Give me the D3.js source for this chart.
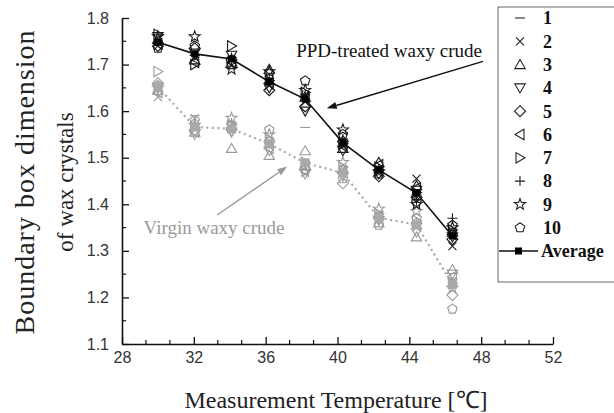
<!DOCTYPE html>
<html>
<head>
<meta charset="utf-8">
<script src="https://cdn.jsdelivr.net/npm/d3@7"></script>
<style>
  body { margin: 0; background: #fff; }
  svg { display: block; }
</style>
</head>
<body>
<svg id="chart" width="614" height="413"></svg>
<script>
// Measurement temperatures (°C) at which each sample was imaged
const temps = [30, 32.05, 34.1, 36.2, 38.2, 40.3, 42.3, 44.4, 46.4];

// Sample labels and their marker shapes
const sampleIds = ["1", "2", "3", "4", "5", "6", "7", "8", "9", "10"];
const sampleShapes = ["dash", "times", "triUp", "triDown", "diamond", "triLeft", "triRight", "plus", "star", "pentagon"];

// PPD-treated crude: one row per temperature, samples 1..10
const ppdByTemp = [
  [1.745, 1.740, 1.755, 1.760, 1.740, 1.745, 1.765, 1.750, 1.760, 1.735],
  [1.720, 1.715, 1.710, 1.725, 1.735, 1.705, 1.700, 1.720, 1.760, 1.740],
  [1.715, 1.710, 1.705, 1.720, 1.710, 1.705, 1.740, 1.715, 1.690, 1.700],
  [1.660, 1.655, 1.690, 1.650, 1.645, 1.660, 1.665, 1.670, 1.685, 1.680],
  [1.625, 1.620, 1.630, 1.600, 1.610, 1.630, 1.640, 1.635, 1.645, 1.665],
  [1.530, 1.525, 1.520, 1.515, 1.535, 1.525, 1.530, 1.540, 1.560, 1.550],
  [1.475, 1.470, 1.490, 1.465, 1.460, 1.485, 1.480, 1.475, 1.470, 1.465],
  [1.420, 1.455, 1.440, 1.430, 1.415, 1.435, 1.425, 1.410, 1.400, 1.405],
  [1.335, 1.310, 1.340, 1.330, 1.325, 1.335, 1.345, 1.370, 1.350, 1.355]
];

// Virgin crude: one row per temperature, samples 1..10
const virginByTemp = [
  [1.655, 1.630, 1.645, 1.650, 1.660, 1.640, 1.685, 1.645, 1.650, 1.655],
  [1.590, 1.585, 1.555, 1.550, 1.560, 1.555, 1.565, 1.570, 1.570, 1.580],
  [1.560, 1.565, 1.520, 1.555, 1.560, 1.565, 1.570, 1.575, 1.585, 1.570],
  [1.530, 1.525, 1.505, 1.515, 1.535, 1.520, 1.540, 1.530, 1.550, 1.560],
  [1.565, 1.480, 1.515, 1.465, 1.475, 1.480, 1.490, 1.485, 1.470, 1.475],
  [1.465, 1.470, 1.475, 1.460, 1.445, 1.470, 1.480, 1.470, 1.490, 1.455],
  [1.370, 1.375, 1.360, 1.365, 1.370, 1.375, 1.380, 1.370, 1.390, 1.355],
  [1.355, 1.350, 1.330, 1.340, 1.360, 1.355, 1.365, 1.360, 1.385, 1.370],
  [1.240, 1.235, 1.260, 1.250, 1.205, 1.245, 1.230, 1.225, 1.220, 1.175]
];

// Averages over the ten samples
const ppdAverage    = [1.748, 1.723, 1.712, 1.663, 1.626, 1.532, 1.474, 1.424, 1.332];
const virginAverage = [1.652, 1.566, 1.562, 1.530, 1.489, 1.467, 1.371, 1.356, 1.228];

// Axis ticks
const xTicks = [28, 32, 36, 40, 44, 48, 52];
const yTicks = [1.1, 1.2, 1.3, 1.4, 1.5, 1.6, 1.7, 1.8];

// Annotation anchors in data units: [temperature, dimension]
const ppdNote    = { text: "PPD-treated waxy crude", at: [37.7, 1.716], from: [48.1, 1.707], to: [39.4, 1.606] };
const virginNote = { text: "Virgin waxy crude",      at: [29.2, 1.337], from: [33.3, 1.377], to: [37.2, 1.481] };

const svg = d3.select("#chart");

const x = d3.scaleLinear().domain([28, 52]).range([122, 553]);
const y = d3.scaleLinear().domain([1.1, 1.8]).range([344, 18]);

// ---------- marker shapes ----------
const closed = d3.line().curve(d3.curveLinearClosed);
function regular(n, r, rot) {
  return d3.range(n).map(i => {
    const a = rot + i * 2 * Math.PI / n;
    return [r * Math.cos(a), r * Math.sin(a)];
  });
}
function shapePath(name) {
  const r = 5;
  switch (name) {
    case "dash":     return `M${-r},0H${r}`;
    case "times":    return `M${-4},${-4}L4,4M${-4},4L4,${-4}`;
    case "plus":     return `M${-r},0H${r}M0,${-r}V${r}`;
    case "triUp":    return closed(regular(3, 6, -Math.PI / 2).map(([a, b]) => [a, b + 1]));
    case "triDown":  return closed(regular(3, 6, Math.PI / 2).map(([a, b]) => [a, b - 1]));
    case "triLeft":  return closed(regular(3, 6, Math.PI).map(([a, b]) => [a + 1, b]));
    case "triRight": return closed(regular(3, 6, 0).map(([a, b]) => [a - 1, b]));
    case "diamond":  return closed(regular(4, 5.5, -Math.PI / 2));
    case "pentagon": return closed(regular(5, 5, -Math.PI / 2));
    case "star": {
      const pts = d3.range(10).map(i => {
        const rr = i % 2 ? 2.4 : 5.8;
        const a = -Math.PI / 2 + i * Math.PI / 5;
        return [rr * Math.cos(a), rr * Math.sin(a)];
      });
      return closed(pts);
    }
  }
  return "";
}

// ---------- axes ----------
const axisColor = "#111";
const labelColor = "#333";

// minor ticks
const xMinor = d3.range(28, 52.001, 4 / 3).filter(v => !xTicks.some(t => Math.abs(t - v) < 1e-6));
const yMinor = d3.range(1.15, 1.8, 0.1);

svg.append("g").selectAll("line").data(xMinor).join("line")
  .attr("x1", d => x(d)).attr("x2", d => x(d))
  .attr("y1", y(1.1)).attr("y2", y(1.1) - 4)
  .attr("stroke", axisColor).attr("stroke-width", 1.2);
svg.append("g").selectAll("line").data(yMinor).join("line")
  .attr("x1", x(28)).attr("x2", x(28) + 4)
  .attr("y1", d => y(d)).attr("y2", d => y(d))
  .attr("stroke", axisColor).attr("stroke-width", 1.2);

const xAxis = svg.append("g")
  .attr("transform", `translate(0,${y(1.1)})`)
  .call(d3.axisBottom(x).tickValues(xTicks).tickFormat(d3.format("d"))
        .tickSizeInner(-7).tickSizeOuter(0).tickPadding(8));
const yAxis = svg.append("g")
  .attr("transform", `translate(${x(28)},0)`)
  .call(d3.axisLeft(y).tickValues(yTicks).tickFormat(d3.format(".1f"))
        .tickSizeInner(-7).tickSizeOuter(0).tickPadding(13));

[xAxis, yAxis].forEach(g => {
  g.select(".domain").attr("stroke", axisColor).attr("stroke-width", 1.6);
  g.selectAll(".tick line").attr("stroke", axisColor).attr("stroke-width", 1.3);
  g.selectAll(".tick text")
    .attr("fill", labelColor)
    .style("font-family", "'Liberation Sans', Arial, sans-serif")
    .style("font-size", "16px");
});

// ---------- axis titles ----------
svg.append("text")
  .attr("x", 336).attr("y", 408)
  .attr("text-anchor", "middle")
  .style("font-family", "'Liberation Serif', 'Times New Roman', serif")
  .style("font-size", "24px")
  .attr("fill", "#222")
  .text("Measurement Temperature [℃]");

svg.append("text")
  .attr("transform", "translate(34,182) rotate(-90)")
  .attr("text-anchor", "middle")
  .style("font-family", "'Liberation Serif', 'Times New Roman', serif")
  .style("font-size", "28px")
  .style("letter-spacing", "1px")
  .attr("fill", "#222")
  .text("Boundary box dimension");

svg.append("text")
  .attr("transform", "translate(73,182) rotate(-90)")
  .attr("text-anchor", "middle")
  .style("font-family", "'Liberation Serif', 'Times New Roman', serif")
  .style("font-size", "23px")
  .attr("fill", "#222")
  .text("of wax crystals");

// ---------- data ----------
function drawGroup(byTemp, avg, opt) {
  const g = svg.append("g");
  // individual sample markers
  const pts = [];
  byTemp.forEach((row, ti) => row.forEach((v, si) => pts.push({ t: temps[ti], v, s: sampleShapes[si] })));
  g.selectAll("path.sample").data(pts).join("path")
    .attr("class", "sample")
    .attr("transform", d => `translate(${x(d.t)},${y(d.v)})`)
    .attr("d", d => shapePath(d.s))
    .attr("fill", "none")
    .attr("stroke", opt.markerColor)
    .attr("stroke-width", 1.1);

  // average line
  const line = d3.line().x((d, i) => x(temps[i])).y(d => y(d));
  g.append("path")
    .attr("d", line(avg))
    .attr("fill", "none")
    .attr("stroke", opt.lineColor)
    .attr("stroke-width", opt.lineWidth)
    .attr("stroke-dasharray", opt.dash);

  // average squares
  g.selectAll("rect.avg").data(avg).join("rect")
    .attr("class", "avg")
    .attr("x", (d, i) => x(temps[i]) - opt.sq / 2)
    .attr("y", d => y(d) - opt.sq / 2)
    .attr("width", opt.sq).attr("height", opt.sq)
    .attr("fill", opt.squareColor);
}

drawGroup(virginByTemp, virginAverage, {
  markerColor: "#9a9a9a", lineColor: "#a8a8a8", lineWidth: 2.2, dash: "2,3.5",
  squareColor: "#a9a9a9", sq: 9
});
drawGroup(ppdByTemp, ppdAverage, {
  markerColor: "#1a1a1a", lineColor: "#111", lineWidth: 1.6, dash: null,
  squareColor: "#000", sq: 7
});

// ---------- annotations ----------
function annotate(note, color, size) {
  svg.append("text")
    .attr("x", x(note.at[0])).attr("y", y(note.at[1]))
    .style("font-family", "'Liberation Serif', 'Times New Roman', serif")
    .style("font-size", size + "px")
    .attr("fill", color)
    .text(note.text);
  const x1 = x(note.from[0]), y1 = y(note.from[1]);
  const x2 = x(note.to[0]), y2 = y(note.to[1]);
  const ang = Math.atan2(y2 - y1, x2 - x1);
  const L = 10, W = 3.5;
  const bx = x2 - L * Math.cos(ang), by = y2 - L * Math.sin(ang);
  svg.append("line")
    .attr("x1", x1).attr("y1", y1).attr("x2", bx).attr("y2", by)
    .attr("stroke", color).attr("stroke-width", 1.4);
  svg.append("path")
    .attr("d", closed([
      [x2, y2],
      [bx + W * Math.sin(ang), by - W * Math.cos(ang)],
      [bx - W * Math.sin(ang), by + W * Math.cos(ang)]
    ]))
    .attr("fill", color);
}
annotate(ppdNote, "#111", 19);
annotate(virginNote, "#9a9a9a", 19);

// ---------- legend ----------
const legend = svg.append("g");
legend.append("rect")
  .attr("x", 498).attr("y", 7).attr("width", 120).attr("height", 275)
  .attr("fill", "#fff").attr("stroke", "#666").attr("stroke-width", 1);

const rowY = i => 18 + i * 23.3;
sampleIds.forEach((id, i) => {
  legend.append("path")
    .attr("transform", `translate(520,${rowY(i)})`)
    .attr("d", shapePath(sampleShapes[i]))
    .attr("fill", "none").attr("stroke", "#222").attr("stroke-width", 1.1);
  legend.append("text")
    .attr("x", 543).attr("y", rowY(i)).attr("dy", "0.35em")
    .style("font-family", "'Liberation Serif', 'Times New Roman', serif")
    .style("font-size", "18px").style("font-weight", "bold")
    .attr("fill", "#111")
    .text(id);
});
const avgRow = rowY(10);
legend.append("line")
  .attr("x1", 499).attr("x2", 538).attr("y1", avgRow).attr("y2", avgRow)
  .attr("stroke", "#111").attr("stroke-width", 1.6);
legend.append("rect")
  .attr("x", 515).attr("y", avgRow - 3.5).attr("width", 7).attr("height", 7)
  .attr("fill", "#000");
legend.append("text")
  .attr("x", 541).attr("y", avgRow).attr("dy", "0.35em")
  .style("font-family", "'Liberation Serif', 'Times New Roman', serif")
  .style("font-size", "18px").style("font-weight", "bold")
  .attr("fill", "#111")
  .text("Average");
</script>
</body>
</html>
